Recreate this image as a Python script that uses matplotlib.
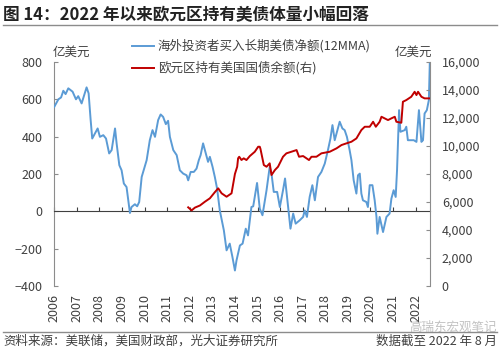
import matplotlib
matplotlib.use("Agg")
import matplotlib.pyplot as plt
from matplotlib.lines import Line2D
from matplotlib.ticker import FuncFormatter

plt.rcParams['font.family'] = ['Noto Sans CJK SC', 'DejaVu Sans']

# 海外投资者买入长期美债净额(12MMA), 亿美元 (left axis)
blue_t = [2006.00, 2006.18, 2006.30, 2006.40, 2006.50, 2006.62, 2006.81, 2006.96, 2007.06, 2007.21,
          2007.43, 2007.52, 2007.61, 2007.68, 2007.80, 2007.92, 2008.02, 2008.17, 2008.29, 2008.43,
          2008.54, 2008.69, 2008.76, 2008.88, 2008.98, 2009.08, 2009.20, 2009.35, 2009.42, 2009.57,
          2009.67, 2009.76, 2009.87, 2010.09, 2010.23, 2010.35, 2010.46, 2010.60, 2010.71, 2010.82,
          2010.94, 2011.04, 2011.12, 2011.27, 2011.42, 2011.56, 2011.71, 2011.86, 2011.93, 2012.04,
          2012.18, 2012.30, 2012.40, 2012.48, 2012.59, 2012.71, 2012.81, 2012.89, 2013.01, 2013.11,
          2013.21, 2013.33, 2013.51, 2013.63, 2013.77, 2013.89, 2014.00, 2014.07, 2014.22, 2014.34,
          2014.48, 2014.58, 2014.73, 2014.81, 2014.98, 2015.10, 2015.22, 2015.40, 2015.54, 2015.62,
          2015.72, 2015.87, 2015.99, 2016.13, 2016.22, 2016.31, 2016.46, 2016.58, 2016.69, 2016.87,
          2017.02, 2017.09, 2017.19, 2017.31, 2017.43, 2017.54, 2017.68, 2017.83, 2017.98, 2018.12,
          2018.23, 2018.32, 2018.42, 2018.52, 2018.64, 2018.76, 2018.86, 2018.96, 2019.08, 2019.16,
          2019.26, 2019.38, 2019.45, 2019.53, 2019.60, 2019.67, 2019.82, 2019.89, 2019.97, 2020.09,
          2020.19, 2020.27, 2020.31, 2020.41, 2020.56, 2020.71, 2020.85, 2020.93, 2021.03, 2021.12,
          2021.18, 2021.27, 2021.33, 2021.52, 2021.59, 2021.66, 2021.92, 2022.04, 2022.15, 2022.21,
          2022.26, 2022.33, 2022.40, 2022.50, 2022.59, 2022.63]
blue_v = [560, 600, 610, 646, 628, 659, 641, 600, 617, 578,
          664, 632, 489, 390, 417, 444, 399, 408, 390, 310,
          328, 444, 364, 247, 220, 149, 130, -9, 23, 38,
          27, 50, 184, 274, 381, 435, 399, 489, 519, 506,
          467, 485, 399, 328, 301, 220, 202, 193, 166, 211,
          211, 229, 274, 301, 364, 310, 265, 292, 238, 184,
          122, 5, -102, -209, -173, -245, -317, -263, -183, -173,
          -93, -129, 23, 27, 152, 14, -21, 113, 238, 202,
          104, 104, 23, 113, 176, 77, -93, -12, -66, -48,
          -30, 5, -30, 77, 140, 59, 184, 211, 256, 328,
          390, 462, 381, 426, 480, 444, 435, 399, 328, 274,
          166, 95, 193, 202, 95, 59, 50, 23, 140, 140,
          59, -30, -120, -30, -111, -30, -12, 68, 113, 77,
          220, 542, 426, 435, 453, 381, 381, 372, 542, 453,
          372, 381, 524, 542, 596, 790]

# 欧元区持有美国国债余额(右), 亿美元 (right axis)
red_t = [2011.93, 2012.08, 2012.23, 2012.45, 2012.67, 2012.89, 2013.11, 2013.26, 2013.41, 2013.63,
         2013.85, 2014.00, 2014.10, 2014.14, 2014.19, 2014.29, 2014.39, 2014.51, 2014.66, 2014.88,
         2015.03, 2015.10, 2015.13, 2015.28, 2015.40, 2015.54, 2015.62, 2015.77, 2015.91, 2016.13,
         2016.28, 2016.50, 2016.73, 2016.84, 2017.02, 2017.17, 2017.28, 2017.39, 2017.61, 2017.83,
         2018.20, 2018.50, 2018.72, 2018.94, 2019.16, 2019.38, 2019.60, 2019.75, 2019.97, 2020.12,
         2020.24, 2020.41, 2020.49, 2020.63, 2020.78, 2020.93, 2021.08, 2021.15, 2021.37, 2021.44,
         2021.59, 2021.81, 2021.96, 2022.04, 2022.11, 2022.26, 2022.40, 2022.62]
red_v = [5619, 5400, 5600, 5750, 6019, 6262, 6700, 6976, 6619, 6376,
         6619, 8000, 8518, 9118, 9232, 9000, 9118, 8996, 9282, 9589,
         9946, 9946, 9800, 8640, 8518, 8761, 7925, 8282, 8518, 9232,
         9475, 9589, 9710, 9232, 9282, 9118, 8996, 9232, 9232, 9475,
         9589, 9832, 10068, 10189, 10304, 10539, 11139, 11374, 11374, 11731,
         11374, 11731, 12088, 11974, 11852, 11974, 12088, 11731, 11660, 13159,
         13280, 13516, 13873, 13637, 13873, 13516, 13401, 13401]

years = list(range(2006, 2023))
left_ticks = [-400, -200, 0, 200, 400, 600, 800]
right_ticks = list(range(0, 16001, 2000))

blue = '#5b9bd5'
red = '#c00000'
grey = '#8c8c8c'
txt = '#404040'

fig = plt.figure(figsize=(5, 3.51), dpi=100)
ax = fig.add_axes([0.1086, 0.1852, 0.7514, 0.6382])
ax2 = ax.twinx()

ax.plot(blue_t, blue_v, color=blue, lw=1.4, zorder=3)
ax2.plot(red_t, red_v, color=red, lw=1.4, zorder=3)

ax.set_xlim(2006, 2022.64)
ax.set_ylim(-400, 800)
ax2.set_ylim(0, 16000)
ax.set_yticks(left_ticks)
ax2.set_yticks(right_ticks)
ax2.yaxis.set_major_formatter(FuncFormatter(lambda v, p: f'{int(v):,}'))

# zero line with the year tick marks
ax.spines['bottom'].set_position(('data', 0))
ax.spines['bottom'].set_color('#404040')
ax.set_xticks(years)
ax.tick_params(axis='x', direction='in', length=3, color='#404040', labelbottom=False)

for a in (ax, ax2):
    a.spines['top'].set_visible(False)
ax2.spines['bottom'].set_visible(False)
ax2.spines['left'].set_visible(False)
ax.spines['right'].set_visible(False)
ax.spines['left'].set_color(grey)
ax2.spines['right'].set_color(grey)

ax.tick_params(axis='y', direction='in', length=3, color=grey, labelcolor=txt, labelsize=9, pad=8.5)
ax2.tick_params(axis='y', direction='in', length=3, color=grey, labelcolor=txt, labelsize=9, pad=8.5)

# year labels at the bottom of the plot
sec = ax.secondary_xaxis('bottom')
sec.set_xticks(years)
sec.set_xticklabels([str(y) for y in years], rotation=90, fontsize=9, color=txt)
sec.tick_params(length=0, pad=6)
sec.spines['bottom'].set_visible(False)

# unit labels
fig.text(0.143, 1 - 52 / 351, '亿美元', fontsize=9, color=txt, ha='center', va='center')
fig.text(0.826, 1 - 52 / 351, '亿美元', fontsize=9, color=txt, ha='center', va='center')

# legend
for yy, c, lab in [(46, blue, '海外投资者买入长期美债净额(12MMA)'),
                   (68, red, '欧元区持有美国国债余额(右)')]:
    fig.add_artist(Line2D([132 / 500, 154 / 500], [1 - yy / 351] * 2, color=c, lw=1.4))
    fig.text(158 / 500, 1 - yy / 351, lab, fontsize=9, color=txt, va='center', ha='left')

# title and frame lines
fig.text(0.006, 1 - 15 / 351, '图 14：2022 年以来欧元区持有美债体量小幅回落',
         fontsize=12, weight='bold', color='#222222', va='center', ha='left')
fig.add_artist(Line2D([0.006, 0.994], [1 - 25 / 351] * 2, color=grey, lw=1))
fig.add_artist(Line2D([0.006, 0.994], [1 - 331.5 / 351] * 2, color=grey, lw=1))

fig.text(0.006, 1 - 341 / 351, '资料来源：美联储，美国财政部，光大证券研究所',
         fontsize=9, color=txt, va='center', ha='left')
fig.text(0.994, 1 - 341 / 351, '数据截至 2022 年 8 月',
         fontsize=9, color=txt, va='center', ha='right')
fig.text(0.994, 1 - 327 / 351, '高瑞东宏观笔记', fontsize=9, color='#999999',
         alpha=0.6, va='center', ha='right')

fig.savefig('out.png', dpi=100)
